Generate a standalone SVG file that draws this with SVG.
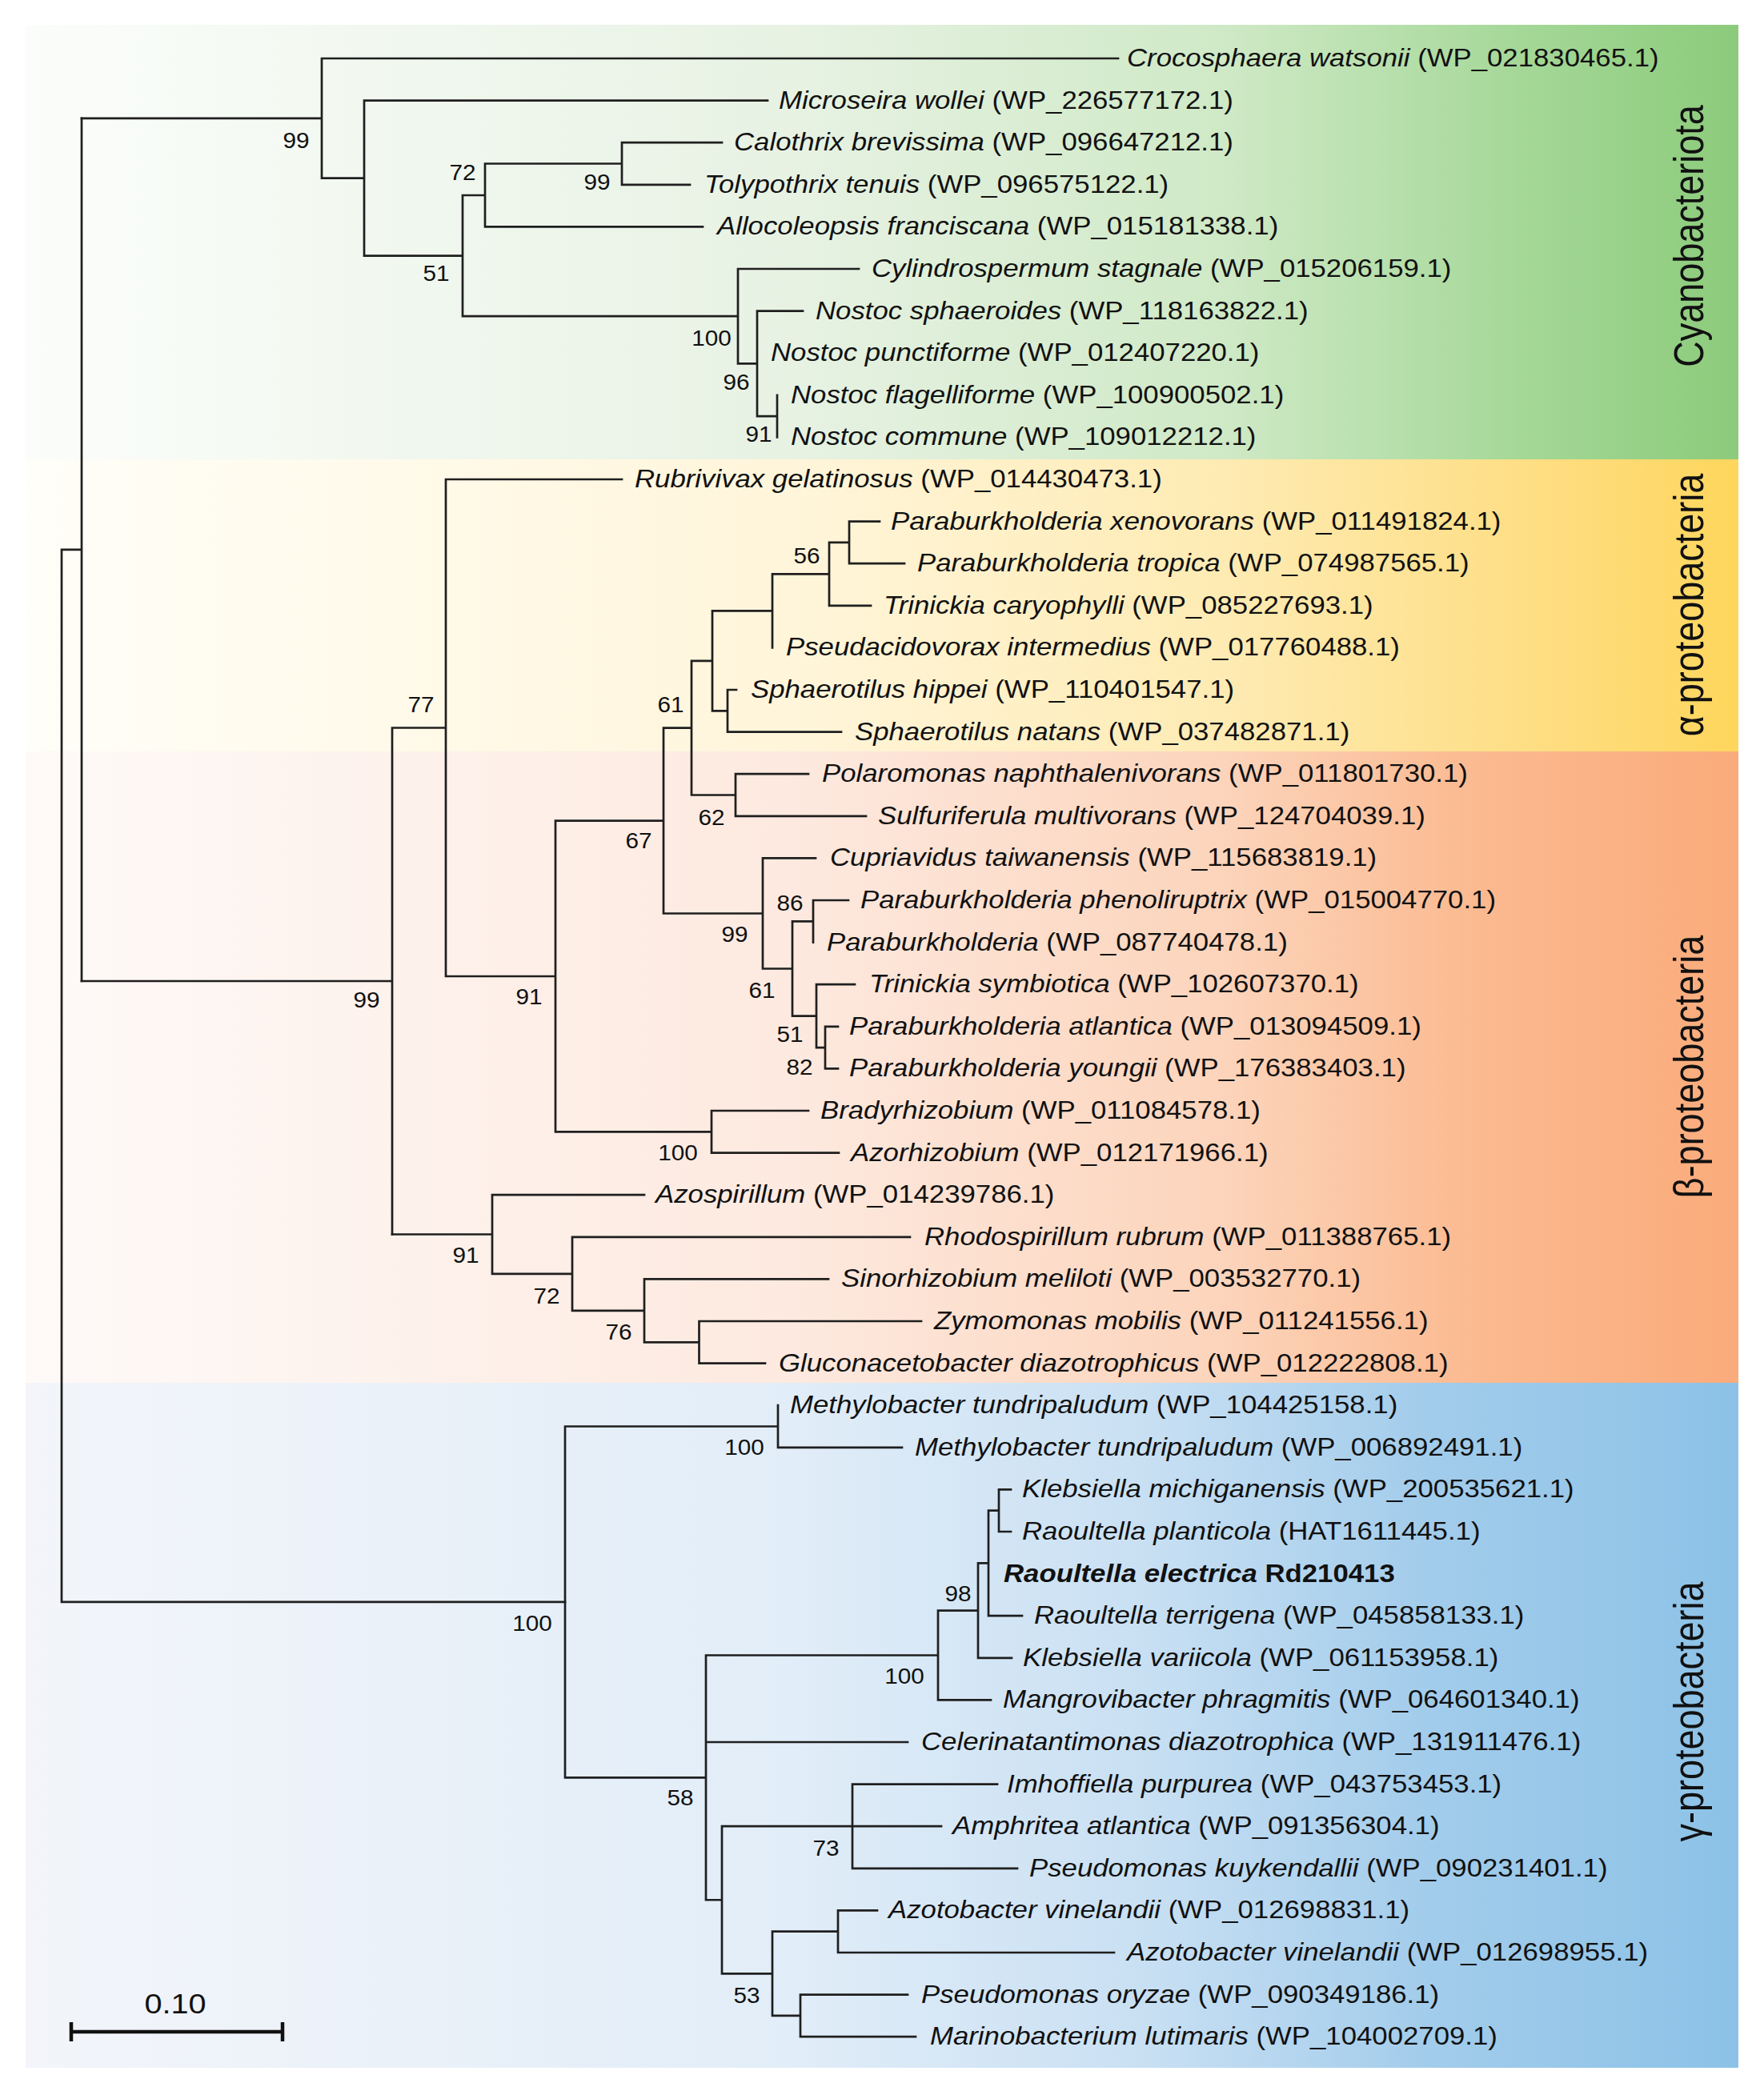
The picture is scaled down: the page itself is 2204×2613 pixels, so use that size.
<svg xmlns="http://www.w3.org/2000/svg" width="2204" height="2613" viewBox="0 0 2204 2613">
<style>
.br{fill:none;stroke:#1f1f1f;stroke-width:2.7;stroke-linecap:square}
.sb{fill:none;stroke:#111;stroke-width:4.5}
.lb{font-family:"Liberation Sans",Arial,sans-serif;font-size:30.5px;fill:#111}
.i{font-style:italic}
.b{font-weight:bold}
.bs{font-family:"Liberation Sans",Arial,sans-serif;font-size:27px;fill:#111;text-anchor:middle}
.grp{font-family:"Liberation Sans",Arial,sans-serif;font-size:45px;fill:#111;text-anchor:middle}
</style>
<defs>
<linearGradient id="gCy" x1="0" y1="0" x2="1" y2="0">
<stop offset="0" stop-color="#fbfdfb"/><stop offset="0.45" stop-color="#e7f2e3"/><stop offset="0.7" stop-color="#cfe9c6"/><stop offset="0.88" stop-color="#a3d796"/><stop offset="1" stop-color="#8ccb7b"/>
</linearGradient>
<linearGradient id="gAl" x1="0" y1="0" x2="1" y2="0">
<stop offset="0" stop-color="#fffef8"/><stop offset="0.45" stop-color="#fff5da"/><stop offset="0.7" stop-color="#feebb3"/><stop offset="0.88" stop-color="#fede84"/><stop offset="1" stop-color="#fed65c"/>
</linearGradient>
<linearGradient id="gBe" x1="0" y1="0" x2="1" y2="0">
<stop offset="0" stop-color="#fefaf8"/><stop offset="0.45" stop-color="#fde9df"/><stop offset="0.7" stop-color="#fcd4bb"/><stop offset="0.85" stop-color="#fbb98f"/><stop offset="1" stop-color="#faab7b"/>
</linearGradient>
<linearGradient id="gGa" x1="0" y1="0" x2="1" y2="0">
<stop offset="0" stop-color="#f3f5fa"/><stop offset="0.45" stop-color="#e1edf8"/><stop offset="0.65" stop-color="#c9e0f3"/><stop offset="0.82" stop-color="#a2cceb"/><stop offset="1" stop-color="#8cc2e7"/>
</linearGradient>
</defs>
<rect x="0" y="0" width="2204" height="2613" fill="#ffffff"/>
<g id="bands">
<rect x="32" y="31" width="2140" height="543" fill="url(#gCy)"/>
<rect x="32" y="574" width="2140" height="365" fill="url(#gAl)"/>
<rect x="32" y="939" width="2140" height="789" fill="url(#gBe)"/>
<rect x="32" y="1728" width="2140" height="856" fill="url(#gGa)"/>
</g>
<g id="group-labels">
<text class="grp" transform="translate(2128,295) scale(1.15,1) rotate(-90)">Cyanobacteriota</text>
<text class="grp" transform="translate(2128,756) scale(1.15,1) rotate(-90)">α-proteobacteria</text>
<text class="grp" transform="translate(2128,1333) scale(1.15,1) rotate(-90)">β-proteobacteria</text>
<text class="grp" transform="translate(2128,2139) scale(1.15,1) rotate(-90)">γ-proteobacteria</text>
</g>
<g id="connectors">
<path class="br" d="M77 686.9V2001.95M77 686.9H102M102 147.8V1226M77 2001.95H706"/>
<path class="br" d="M102 147.8H402M402 73V222.6M402 73H1397M402 222.6H455M455 125.6V319.6M455 125.6H959M455 319.6H578M578 244V395.2M578 244H606M606 204.5V283.4M606 204.5H777M777 178.2V230.8M777 178.2H902M777 230.8H862M606 283.4H878M578 395.2H922M922 336V454.35M922 336H1073M922 454.35H946M946 388.6V520.1M946 388.6H1003M946 520.1H971M971 493.8V546.4"/>
<path class="br" d="M102 1226H490M490 909.5V1542.5M490 909.5H557M557 599V1220M557 599H777M557 1220H694M694 1025.6V1414.3M694 1025.6H829M829 909.7V1141.5M829 909.7H864M864 825.9V993.5M864 825.9H890M890 763.4V888.3M890 763.4H965M965 717.4V809.4M965 717.4H1036M1036 677.9V756.8M1036 677.9H1061M1061 651.6V704.2M1061 651.6H1099M1061 704.2H1130M1036 756.8H1088M890 888.3H909M909 862V914.6M909 862H920M909 914.6H1051M864 993.5H919M919 967.2V1019.8M919 967.2H1010M919 1019.8H1082M829 1141.5H953M953 1072.4V1210.5M953 1072.4H1019M953 1210.5H990M990 1151.3V1269.7M990 1151.3H1016M1016 1125V1177.6M1016 1125H1060M990 1269.7H1020M1020 1230.2V1309.1M1020 1230.2H1068M1020 1309.1H1031M1031 1282.8V1335.4M1031 1282.8H1047M1031 1335.4H1047M694 1414.3H889M889 1388V1440.6M889 1388H1010M889 1440.6H1048"/>
<path class="br" d="M490 1542.5H615M615 1493.2V1591.9M615 1493.2H805M615 1591.9H715M715 1545.8V1637.9M715 1545.8H1137M715 1637.9H805M805 1598.4V1677.3M805 1598.4H1035M805 1677.3H873.5M873.5 1651V1703.6M873.5 1651H1151M873.5 1703.6H956"/>
<path class="br" d="M706 1782.5V2221.4M706 1782.5H972M972 1756.2V1808.8M972 1808.8H1127M706 2221.4H882M882 2068.5V2374.25M882 2068.5H1172M1172 2012.6V2124.4M1172 2012.6H1222M1222 1953.45V2071.8M1222 1953.45H1235M1235 1887.7V2019.2M1235 1887.7H1248M1248 1861.4V1914M1248 1861.4H1263M1248 1914H1263M1235 2019.2H1277M1222 2071.8H1264M1172 2124.4H1238M882 2177H1134M882 2374.25H902M902 2282.2V2466.3M902 2282.2H1065M1065 2229.6V2334.8M1065 2229.6H1246M1065 2282.2H1176M1065 2334.8H1271M902 2466.3H965M965 2413.7V2518.9M965 2413.7H1047M1047 2387.4V2440M1047 2387.4H1096M1047 2440H1392M965 2518.9H1000M1000 2492.6V2545.2M1000 2492.6H1134M1000 2545.2H1144"/>
</g>
<g id="bootstrap">
<text class="bs" transform="translate(370,185) scale(1.1,1)">99</text>
<text class="bs" transform="translate(578,225) scale(1.1,1)">72</text>
<text class="bs" transform="translate(746,237) scale(1.1,1)">99</text>
<text class="bs" transform="translate(545,351) scale(1.1,1)">51</text>
<text class="bs" transform="translate(889,432) scale(1.1,1)">100</text>
<text class="bs" transform="translate(920,487) scale(1.1,1)">96</text>
<text class="bs" transform="translate(948,552) scale(1.1,1)">91</text>
<text class="bs" transform="translate(526,890) scale(1.1,1)">77</text>
<text class="bs" transform="translate(838,890) scale(1.1,1)">61</text>
<text class="bs" transform="translate(1008,704) scale(1.1,1)">56</text>
<text class="bs" transform="translate(889,1031) scale(1.1,1)">62</text>
<text class="bs" transform="translate(798,1060) scale(1.1,1)">67</text>
<text class="bs" transform="translate(987,1138) scale(1.1,1)">86</text>
<text class="bs" transform="translate(918,1177) scale(1.1,1)">99</text>
<text class="bs" transform="translate(952,1247) scale(1.1,1)">61</text>
<text class="bs" transform="translate(458,1259) scale(1.1,1)">99</text>
<text class="bs" transform="translate(661,1255) scale(1.1,1)">91</text>
<text class="bs" transform="translate(987,1302) scale(1.1,1)">51</text>
<text class="bs" transform="translate(999,1343) scale(1.1,1)">82</text>
<text class="bs" transform="translate(847,1450) scale(1.1,1)">100</text>
<text class="bs" transform="translate(582,1578) scale(1.1,1)">91</text>
<text class="bs" transform="translate(683,1629) scale(1.1,1)">72</text>
<text class="bs" transform="translate(773,1674) scale(1.1,1)">76</text>
<text class="bs" transform="translate(930,1818) scale(1.1,1)">100</text>
<text class="bs" transform="translate(665,2038) scale(1.1,1)">100</text>
<text class="bs" transform="translate(1197,2001) scale(1.1,1)">98</text>
<text class="bs" transform="translate(1130,2104) scale(1.1,1)">100</text>
<text class="bs" transform="translate(850,2256) scale(1.1,1)">58</text>
<text class="bs" transform="translate(1032,2319) scale(1.1,1)">73</text>
<text class="bs" transform="translate(933,2503) scale(1.1,1)">53</text>
</g>
<g id="leaves">
<g id="leaf-01" transform="translate(1408,83) scale(1.14,1)"><text class="lb"><tspan class="i">Crocosphaera watsonii</tspan> (WP_021830465.1)</text></g>
<g id="leaf-02" transform="translate(973,135.6) scale(1.14,1)"><text class="lb"><tspan class="i">Microseira wollei</tspan> (WP_226577172.1)</text></g>
<g id="leaf-03" transform="translate(917,188.2) scale(1.14,1)"><text class="lb"><tspan class="i">Calothrix brevissima</tspan> (WP_096647212.1)</text></g>
<g id="leaf-04" transform="translate(880,240.8) scale(1.14,1)"><text class="lb"><tspan class="i">Tolypothrix tenuis</tspan> (WP_096575122.1)</text></g>
<g id="leaf-05" transform="translate(896,293.4) scale(1.14,1)"><text class="lb"><tspan class="i">Allocoleopsis franciscana</tspan> (WP_015181338.1)</text></g>
<g id="leaf-06" transform="translate(1089,346) scale(1.14,1)"><text class="lb"><tspan class="i">Cylindrospermum stagnale</tspan> (WP_015206159.1)</text></g>
<g id="leaf-07" transform="translate(1019,398.6) scale(1.14,1)"><text class="lb"><tspan class="i">Nostoc sphaeroides</tspan> (WP_118163822.1)</text></g>
<g id="leaf-08" transform="translate(963,451.2) scale(1.14,1)"><text class="lb"><tspan class="i">Nostoc punctiforme</tspan> (WP_012407220.1)</text></g>
<g id="leaf-09" transform="translate(988,503.8) scale(1.14,1)"><text class="lb"><tspan class="i">Nostoc flagelliforme</tspan> (WP_100900502.1)</text></g>
<g id="leaf-10" transform="translate(988,556.4) scale(1.14,1)"><text class="lb"><tspan class="i">Nostoc commune</tspan> (WP_109012212.1)</text></g>
<g id="leaf-11" transform="translate(793,609) scale(1.14,1)"><text class="lb"><tspan class="i">Rubrivivax gelatinosus</tspan> (WP_014430473.1)</text></g>
<g id="leaf-12" transform="translate(1113,661.6) scale(1.14,1)"><text class="lb"><tspan class="i">Paraburkholderia xenovorans</tspan> (WP_011491824.1)</text></g>
<g id="leaf-13" transform="translate(1146,714.2) scale(1.14,1)"><text class="lb"><tspan class="i">Paraburkholderia tropica</tspan> (WP_074987565.1)</text></g>
<g id="leaf-14" transform="translate(1104,766.8) scale(1.14,1)"><text class="lb"><tspan class="i">Trinickia caryophylli</tspan> (WP_085227693.1)</text></g>
<g id="leaf-15" transform="translate(982,819.4) scale(1.14,1)"><text class="lb"><tspan class="i">Pseudacidovorax intermedius</tspan> (WP_017760488.1)</text></g>
<g id="leaf-16" transform="translate(938,872) scale(1.14,1)"><text class="lb"><tspan class="i">Sphaerotilus hippei</tspan> (WP_110401547.1)</text></g>
<g id="leaf-17" transform="translate(1068,924.6) scale(1.14,1)"><text class="lb"><tspan class="i">Sphaerotilus natans</tspan> (WP_037482871.1)</text></g>
<g id="leaf-18" transform="translate(1027,977.2) scale(1.14,1)"><text class="lb"><tspan class="i">Polaromonas naphthalenivorans</tspan> (WP_011801730.1)</text></g>
<g id="leaf-19" transform="translate(1097,1029.8) scale(1.14,1)"><text class="lb"><tspan class="i">Sulfuriferula multivorans</tspan> (WP_124704039.1)</text></g>
<g id="leaf-20" transform="translate(1037,1082.4) scale(1.14,1)"><text class="lb"><tspan class="i">Cupriavidus taiwanensis</tspan> (WP_115683819.1)</text></g>
<g id="leaf-21" transform="translate(1075,1135) scale(1.14,1)"><text class="lb"><tspan class="i">Paraburkholderia phenoliruptrix</tspan> (WP_015004770.1)</text></g>
<g id="leaf-22" transform="translate(1033,1187.6) scale(1.14,1)"><text class="lb"><tspan class="i">Paraburkholderia</tspan> (WP_087740478.1)</text></g>
<g id="leaf-23" transform="translate(1086,1240.2) scale(1.14,1)"><text class="lb"><tspan class="i">Trinickia symbiotica</tspan> (WP_102607370.1)</text></g>
<g id="leaf-24" transform="translate(1061,1292.8) scale(1.14,1)"><text class="lb"><tspan class="i">Paraburkholderia atlantica</tspan> (WP_013094509.1)</text></g>
<g id="leaf-25" transform="translate(1061,1345.4) scale(1.14,1)"><text class="lb"><tspan class="i">Paraburkholderia youngii</tspan> (WP_176383403.1)</text></g>
<g id="leaf-26" transform="translate(1025,1398) scale(1.14,1)"><text class="lb"><tspan class="i">Bradyrhizobium</tspan> (WP_011084578.1)</text></g>
<g id="leaf-27" transform="translate(1063,1450.6) scale(1.14,1)"><text class="lb"><tspan class="i">Azorhizobium</tspan> (WP_012171966.1)</text></g>
<g id="leaf-28" transform="translate(819,1503.2) scale(1.14,1)"><text class="lb"><tspan class="i">Azospirillum</tspan> (WP_014239786.1)</text></g>
<g id="leaf-29" transform="translate(1155,1555.8) scale(1.14,1)"><text class="lb"><tspan class="i">Rhodospirillum rubrum</tspan> (WP_011388765.1)</text></g>
<g id="leaf-30" transform="translate(1051,1608.4) scale(1.14,1)"><text class="lb"><tspan class="i">Sinorhizobium meliloti</tspan> (WP_003532770.1)</text></g>
<g id="leaf-31" transform="translate(1167,1661) scale(1.14,1)"><text class="lb"><tspan class="i">Zymomonas mobilis</tspan> (WP_011241556.1)</text></g>
<g id="leaf-32" transform="translate(973,1713.6) scale(1.14,1)"><text class="lb"><tspan class="i">Gluconacetobacter diazotrophicus</tspan> (WP_012222808.1)</text></g>
<g id="leaf-33" transform="translate(987,1766.2) scale(1.14,1)"><text class="lb"><tspan class="i">Methylobacter tundripaludum</tspan> (WP_104425158.1)</text></g>
<g id="leaf-34" transform="translate(1143,1818.8) scale(1.14,1)"><text class="lb"><tspan class="i">Methylobacter tundripaludum</tspan> (WP_006892491.1)</text></g>
<g id="leaf-35" transform="translate(1277,1871.4) scale(1.14,1)"><text class="lb"><tspan class="i">Klebsiella michiganensis</tspan> (WP_200535621.1)</text></g>
<g id="leaf-36" transform="translate(1277,1924) scale(1.14,1)"><text class="lb"><tspan class="i">Raoultella planticola</tspan> (HAT1611445.1)</text></g>
<g id="leaf-37" transform="translate(1254,1976.6) scale(1.14,1)"><text class="lb b"><tspan class="i">Raoultella electrica</tspan> Rd210413</text></g>
<g id="leaf-38" transform="translate(1292,2029.2) scale(1.14,1)"><text class="lb"><tspan class="i">Raoultella terrigena</tspan> (WP_045858133.1)</text></g>
<g id="leaf-39" transform="translate(1278,2081.8) scale(1.14,1)"><text class="lb"><tspan class="i">Klebsiella variicola</tspan> (WP_061153958.1)</text></g>
<g id="leaf-40" transform="translate(1253,2134.4) scale(1.14,1)"><text class="lb"><tspan class="i">Mangrovibacter phragmitis</tspan> (WP_064601340.1)</text></g>
<g id="leaf-41" transform="translate(1151,2187) scale(1.14,1)"><text class="lb"><tspan class="i">Celerinatantimonas diazotrophica</tspan> (WP_131911476.1)</text></g>
<g id="leaf-42" transform="translate(1258,2239.6) scale(1.14,1)"><text class="lb"><tspan class="i">Imhoffiella purpurea</tspan> (WP_043753453.1)</text></g>
<g id="leaf-43" transform="translate(1190,2292.2) scale(1.14,1)"><text class="lb"><tspan class="i">Amphritea atlantica</tspan> (WP_091356304.1)</text></g>
<g id="leaf-44" transform="translate(1286,2344.8) scale(1.14,1)"><text class="lb"><tspan class="i">Pseudomonas kuykendallii</tspan> (WP_090231401.1)</text></g>
<g id="leaf-45" transform="translate(1110,2397.4) scale(1.14,1)"><text class="lb"><tspan class="i">Azotobacter vinelandii</tspan> (WP_012698831.1)</text></g>
<g id="leaf-46" transform="translate(1408,2450) scale(1.14,1)"><text class="lb"><tspan class="i">Azotobacter vinelandii</tspan> (WP_012698955.1)</text></g>
<g id="leaf-47" transform="translate(1151,2502.6) scale(1.14,1)"><text class="lb"><tspan class="i">Pseudomonas oryzae</tspan> (WP_090349186.1)</text></g>
<g id="leaf-48" transform="translate(1162,2555.2) scale(1.14,1)"><text class="lb"><tspan class="i">Marinobacterium lutimaris</tspan> (WP_104002709.1)</text></g>
</g>
<g id="scale-bar">
<path class="sb" d="M89 2539H353M89 2527V2551M353 2527V2551"/>
<text class="bs" style="font-size:36px" transform="translate(219,2516) scale(1.1,1)">0.10</text>
</g>
</svg>
